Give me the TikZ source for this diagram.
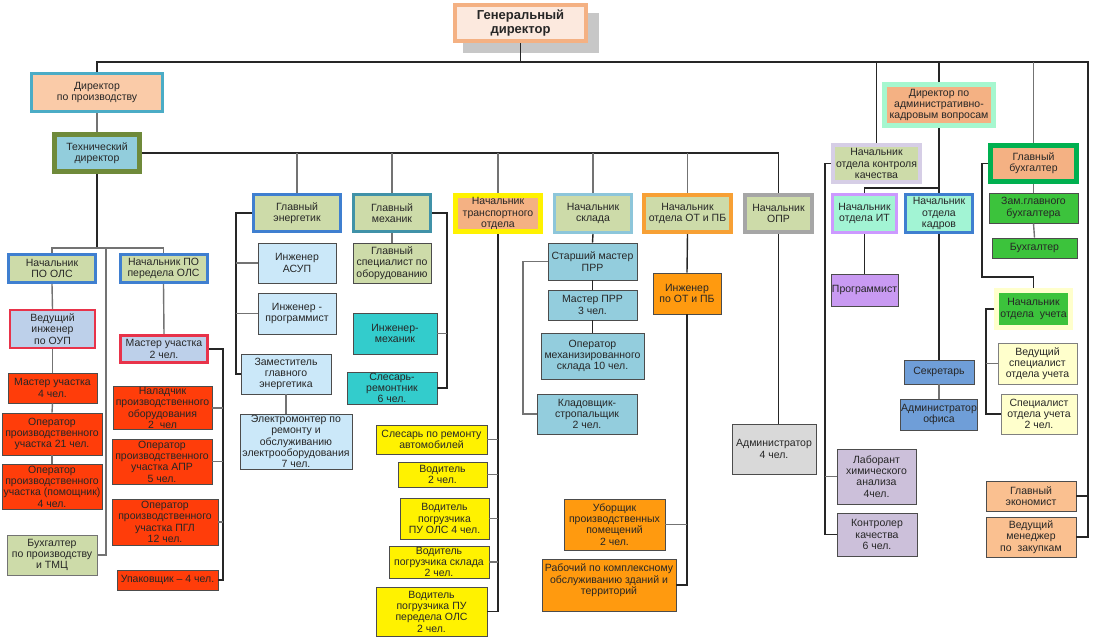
\documentclass[tikz,border=0pt]{standalone}
\usepackage{fontspec}
\setmainfont{Liberation Sans}

\definecolor{cCream}{HTML}{FCE9DE}
\definecolor{cSalmon}{HTML}{F4B183}
\definecolor{cPeach}{HTML}{FACBA8}
\definecolor{cTeal}{HTML}{4BACC6}
\definecolor{cOliveDk}{HTML}{6F8A3A}
\definecolor{cSky}{HTML}{92CDDC}
\definecolor{cOlive}{HTML}{CDDBA9}
\definecolor{cBlue}{HTML}{3F7FD0}
\definecolor{cRed}{HTML}{E8334A}
\definecolor{cLav}{HTML}{BDD0EA}
\definecolor{cFire}{HTML}{FF3D0A}
\definecolor{cIce}{HTML}{CBE8F9}
\definecolor{cAqua}{HTML}{33CCCC}
\definecolor{cStore}{HTML}{93CDDD}
\definecolor{cStoreBd}{HTML}{8DC6DA}
\definecolor{cOrange}{HTML}{FF9A0F}
\definecolor{cOrangeBd}{HTML}{F7A035}
\definecolor{cGray}{HTML}{D9D9D9}
\definecolor{cGrayBd}{HTML}{A6A6A6}
\definecolor{cMint}{HTML}{A2F4D4}
\definecolor{cMintBd}{HTML}{A6F7CF}
\definecolor{cPurple}{HTML}{C99AF2}
\definecolor{cPurpleBd}{HTML}{CC99FF}
\definecolor{cSteel}{HTML}{6F9ED8}
\definecolor{cGreen}{HTML}{3CC33C}
\definecolor{cGreenBd}{HTML}{00B050}
\definecolor{cLemon}{HTML}{FFFFCC}
\definecolor{cLilac}{HTML}{CCC0DA}
\definecolor{cLilacBd}{HTML}{D6CEE6}
\definecolor{cApricot}{HTML}{FAC090}

\tikzset{
  box/.style={draw=black!70, line width=0.9pt, align=center, inner sep=1pt,
    text=black!85, font=\fontsize{10.5}{11.3}\selectfont},
  sz/.style 2 args={minimum width=#1pt, minimum height=#2pt},
  wire/.style={line width=1.4pt, black!85},
  twig/.style={line width=1.4pt, black!55},
}

\begin{document}
\begin{tikzpicture}[x=1pt,y=-1pt]
        % Fix the page size
        \useasboundingbox (0,0) rectangle (1093,641);
        % Top of the chart
        \fill[black!22] (463,13) rectangle (599,53);
        \node[box, sz={131}{36}, line width=4pt, draw=cSalmon, fill=cCream,
          font=\bfseries\fontsize{13}{14.5}\selectfont] (gd) at (520.5,23) {Генеральный\\директор};
        \node[box, sz={131}{38}, line width=3pt, draw=cTeal, fill=cPeach] (dpp) at (97,92.5) {Директор\\по производству};
        \node[box, sz={85}{37}, line width=5pt, draw=cOliveDk, fill=cSky] (td) at (97,153) {Технический\\директор};
        % Production sites
        \node[box, sz={87}{28}, line width=3pt, draw=cBlue, fill=cOlive] (npo) at (52,268.5) {Начальник\\ПО ОЛС};
        \node[box, sz={87}{28}, line width=3pt, draw=cBlue, fill=cOlive] (nppo) at (163.5,268.5) {Начальник ПО\\передела ОЛС};
        \node[box, sz={85}{38}, line width=2pt, draw=cRed, fill=cLav] (vi) at (52.5,329) {Ведущий\\инженер\\по ОУП};
        \node[box, sz={89}{30}, fill=cFire] (mu4) at (52.5,388) {Мастер участка\\4 чел.};
        \node[box, sz={100}{42}, fill=cFire] (op21) at (52,434) {Оператор\\производственного\\участка 21 чел.};
        \node[box, sz={100}{45}, fill=cFire] (oppom) at (52,486.5) {Оператор\\производственного\\участка (помощник)\\4 чел.};
        \node[box, sz={90}{40}, draw=black!55, fill=cOlive] (buhp) at (52,555) {Бухгалтер\\по производству\\и ТМЦ};
        \node[box, sz={87}{27}, line width=3pt, draw=cRed, fill=cLav] (mu2) at (164,349) {Мастер участка\\2 чел.};
        \node[box, sz={99}{42}, fill=cFire] (nal) at (162.5,408) {Наладчик\\производственного\\оборудования\\2 \ чел};
        \node[box, sz={100}{45}, fill=cFire] (apr) at (162,461.5) {Оператор\\производственного\\участка АПР\\5 чел.};
        \node[box, sz={106}{46}, fill=cFire] (pgl) at (165,522) {Оператор\\производственного\\участка ПГЛ\\12 чел.};
        \node[box, sz={101}{20}, fill=cFire] (upak) at (167.5,580) {Упаковщик -- 4 чел.};
        % Energy and mechanics
        \node[box, sz={87}{37}, line width=3pt, draw=cBlue, fill=cOlive] (ge) at (297,213) {Главный\\энергетик};
        \node[box, sz={78}{40}, fill=cIce] (asup) at (297,263) {Инженер\\АСУП};
        \node[box, sz={78}{41}, fill=cIce] (proge) at (297,313.5) {Инженер -\\программист};
        \node[box, sz={90}{40}, fill=cIce] (zge) at (286,374) {Заместитель\\главного\\энергетика};
        \node[box, sz={112}{55}, fill=cIce] (elm) at (296,441.5) {Электромонтер по\\ремонту и\\обслуживанию\\электрооборудования\\7 чел.};
        \node[box, sz={77}{37}, line width=3pt, draw=cTeal!85!black, fill=cOlive] (gm) at (392,213) {Главный\\механик};
        \node[box, sz={78}{40}, fill=cOlive] (gso) at (392,263) {Главный\\специалист по\\оборудованию};
        \node[box, sz={84}{41}, fill=cAqua] (im) at (395,333.5) {Инженер-\\механик};
        \node[box, sz={90}{32}, fill=cAqua] (sr) at (392,388) {Слесарь-\\ремонтник\\6 чел.};
        % Transport
        \node[box, sz={85}{36}, line width=5pt, draw=yellow, fill=cSalmon] (nto) at (498,213.5) {Начальник\\транспортного\\отдела};
        \node[box, sz={111}{29}, fill=yellow] (sl) at (431.5,439.5) {Слесарь по ремонту\\автомобилей};
        \node[box, sz={89}{25}, fill=yellow] (vod) at (442.5,474.5) {Водитель\\2 чел.};
        \node[box, sz={89}{41}, fill=yellow] (vpo) at (444.5,518.5) {Водитель\\погрузчика\\ПУ ОЛС 4 чел.};
        \node[box, sz={100}{30}, fill=yellow] (vps) at (439,562) {Водитель\\погрузчика склада\\2 чел.};
        \node[box, sz={111}{49}, fill=yellow] (vpp) at (431.5,611.5) {Водитель\\погрузчика ПУ\\передела ОЛС\\2 чел.};
        % Warehouse
        \node[box, sz={77}{38}, line width=3pt, draw=cStoreBd, fill=cOlive] (ns) at (593,213.5) {Начальник\\склада};
        \node[box, sz={89}{37}, fill=cStore] (smp) at (592.5,261.5) {Старший мастер\\ПРР};
        \node[box, sz={89}{30}, fill=cStore] (mp) at (592.5,305) {Мастер ПРР\\3 чел.};
        \node[box, sz={103}{46}, fill=cStore] (oms) at (592.5,356) {Оператор\\механизированного\\склада 10 чел.};
        \node[box, sz={100}{40}, fill=cStore] (ks) at (587,414) {Кладовщик-\\стропальщик\\2 чел.};
        % Labour safety and OPR
        \node[box, sz={87}{37}, line width=4pt, draw=cOrangeBd, fill=cOlive] (not) at (687.5,213.5) {Начальник\\отдела ОТ и ПБ};
        \node[box, sz={68}{41}, fill=cOrange] (iot) at (687,293.5) {Инженер\\по ОТ и ПБ};
        \node[box, sz={101}{51}, fill=cOrange] (ub) at (614.5,524.5) {Уборщик\\производственных\\помещений\\2 чел.};
        \node[box, sz={134}{52}, fill=cOrange] (rab) at (609,585) {Рабочий по комплексному\\обслуживанию зданий и\\территорий\\~};
        \node[box, sz={67}{37}, line width=4pt, draw=cGrayBd, fill=cOlive] (nopr) at (778.5,213.5) {Начальник\\ОПР};
        \node[box, sz={84}{50}, fill=cGray] (adm) at (774,449) {Администратор\\4 чел.};
        % Administration
        \node[box, sz={109}{41}, line width=5pt, draw=cMintBd, fill=cSalmon] (dakv) at (939,105) {Директор по\\административно-\\кадровым вопросам};
        \node[box, sz={87}{37}, line width=4pt, draw=cLilacBd, fill=cOlive] (nkk) at (876.5,163.5) {Начальник\\отдела контроля\\качества};
        \node[box, sz={64}{38}, line width=3pt, draw=cPurpleBd, fill=cMint] (nit) at (864.5,213.5) {Начальник\\отдела ИТ};
        \node[box, sz={67}{38}, line width=3pt, draw=cBlue, fill=cMint] (nok) at (939,213.5) {Начальник\\отдела\\кадров};
        \node[box, sz={67}{32}, fill=cPurple] (prg) at (864.5,290) {Программист};
        \node[box, sz={70}{24}, fill=cSteel] (sec) at (939,372) {Секретарь};
        \node[box, sz={77}{31}, fill=cSteel] (ao) at (939,414.5) {Администратор\\офиса};
        \node[box, sz={79}{55}, fill=cLilac] (lab) at (876.5,476.5) {Лаборант\\химического\\анализа\\4чел.};
        \node[box, sz={80}{43}, fill=cLilac] (kon) at (877,534.5) {Контролер\\качества\\6 чел.};
        % Accounting
        \node[box, sz={86}{36}, line width=5pt, draw=cGreenBd, fill=cSalmon] (gb) at (1033.5,163.5) {Главный\\бухгалтер};
        \node[box, sz={89}{30}, fill=cGreen] (zgb) at (1033.5,208) {Зам.главного\\бухгалтера};
        \node[box, sz={85}{20}, fill=cGreen] (buh) at (1034.5,248) {Бухгалтер};
        \node[box, sz={74}{37}, line width=5pt, draw=cLemon, fill=cGreen] (nou) at (1033.5,309) {Начальник\\отдела \ учета};
        \node[box, sz={79}{41}, draw=black!50, fill=cLemon] (vsou) at (1037.5,363.5) {Ведущий\\специалист\\отдела учета};
        \node[box, sz={76}{40}, draw=black!50, fill=cLemon] (sou) at (1039,414) {Специалист\\отдела учета\\2 чел.};
        \node[box, sz={90}{30}, fill=cApricot] (gek) at (1031,496) {Главный\\экономист};
        \node[box, sz={90}{40}, fill=cApricot] (vm) at (1031,537) {Ведущий\\менеджер\\по \ закупкам};

        % Top bus
        \coordinate (rbus) at (1088,62);
        \draw[wire] (gd.south) -- (gd.south |- rbus);
        \draw[wire] (dpp.north) |- (rbus) |- (vm.east);
        \draw[wire] (rbus |- gek.east) -- (gek.east);
        \draw[wire] (nkk.north) -- (nkk.north |- rbus);
        \draw[wire] (dakv.north) -- (dakv.north |- rbus);
        \draw[twig] (gb.north) -- (gb.north |- rbus);
        % Technical director
        \draw[twig] (dpp.south) -- (td.north);
        \draw[wire] (td.east) -| (nopr.north);
        \foreach \b in {ge,gm,nto,ns,not} \draw[twig] (\b.north) -- (\b.north |- td.east);
        % Production lines
        \coordinate (olsbus) at (97,248);
        \coordinate (buhbus) at (106,248);
        \draw[wire] (td.south) -- (olsbus);
        \draw[twig] (npo.north) |- (olsbus) -| (nppo.north);
        \draw[twig] (buhbus) |- (buhp.east);
        \foreach \a/\b in {npo/vi,vi/mu4,mu4/op21,op21/oppom} \draw[twig] (\a.south) -- (\b.north);
        \draw[twig] (nppo.south) -- (mu2.north);
        \coordinate (mbus) at (223,349);
        \draw[wire] (mu2.east) -- (mbus) |- (upak.east);
        \foreach \b in {nal,apr,pgl} \draw[twig] (\b.east) -- (\b.east -| mbus);
        % Energy lines
        \coordinate (ebus) at (236,213);
        \draw[wire] (ge.west) -- (ebus) |- (zge.west);
        \foreach \b in {asup,proge} \draw[twig] (\b.west) -- (\b.west -| ebus);
        \draw[twig] (zge.south) -- (zge.south |- elm.north);
        % Mechanic lines
        \coordinate (gmbus) at (447,213);
        \draw[wire] (gm.east) -- (gmbus) |- (sr.east);
        \draw[twig] (im.east) -- (im.east -| gmbus);
        \draw[twig] (gm.south) -- (gso.north);
        % Transport lines
        \draw[wire] (nto.south) |- (vpp.east);
        \foreach \b in {sl,vod,vpo,vps} \draw[twig] (\b.east) -- (\b.east -| nto.south);
        % Warehouse lines
        \foreach \a/\b in {ns/smp,smp/mp,mp/oms} \draw[wire] (\a.south) -- (\b.north);
        \coordinate (sbus) at (523,261.5);
        \draw[twig] (smp.west) -- (sbus) |- (ks.west);
        % Safety and OPR lines
        \draw[wire] (not.south) -- (iot.north);
        \draw[wire] (iot.south) |- (rab.east);
        \draw[twig] (ub.east) -- (ub.east -| iot.south);
        \draw[wire] (nopr.south) -- (nopr.south |- adm.north);
        % Administration lines
        \coordinate (itbus) at (939,188);
        \draw[wire] (dakv.south) -- (nok.north);
        \draw[wire] (itbus) -| (nit.north);
        \draw[wire] (nit.south) -- (prg.north);
        \draw[wire] (nok.south) -- (sec.north);
        \draw[twig] (sec.south) -- (ao.north);
        \coordinate (kbus) at (825,163.5);
        \draw[wire] (nkk.west) -- (kbus) |- (kon.west);
        \draw[twig] (lab.west) -- (lab.west -| kbus);
        % Accounting lines
        \draw[twig] (gb.south) -- (zgb.north);
        \draw[twig] (zgb.south) -- (buh.north);
        \coordinate (gbturn) at (982,277);
        \draw[wire] (gb.west) -| (gbturn) -| (nou.north);
        \coordinate (ubus) at (986,309);
        \draw[wire] (nou.west) -- (ubus) |- (sou.west);
        \draw[twig] (vsou.west) -- (vsou.west -| ubus);
\end{tikzpicture}
\end{document}
